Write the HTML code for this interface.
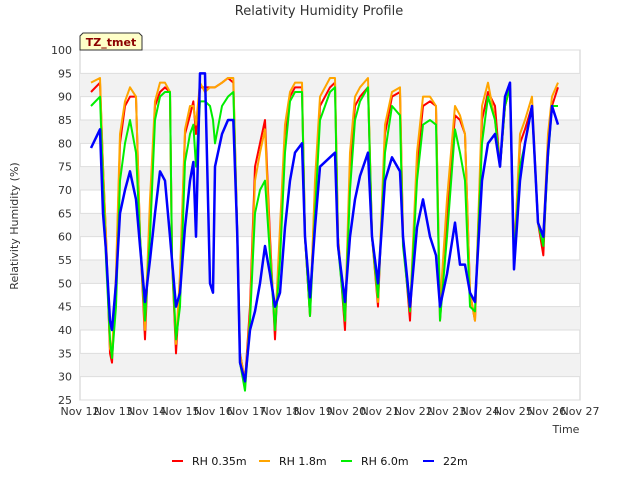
<!DOCTYPE html>
<html><head><meta charset="utf-8"><style>
body{margin:0;background:#fff;font-family:"DejaVu Sans","Liberation Sans",sans-serif}
svg text{font-family:"DejaVu Sans","Liberation Sans",sans-serif}
</style></head><body>
<svg id="c" width="640" height="480" xmlns="http://www.w3.org/2000/svg">
<text x="319" y="15" text-anchor="middle" font-size="13" fill="#333">Relativity Humidity Profile</text>
<text transform="translate(18,226) rotate(-90)" text-anchor="middle" font-size="11" fill="#333">Relativity Humidity (%)</text>
<text x="566" y="433" text-anchor="middle" font-size="11" fill="#333">Time</text>
<g id="grid"></g><g id="series"></g><g id="ticks"></g>
<g>
<path d="M80,50 L80,36 L83,33 L139,33 L142,36 L142,50 Z" fill="#ffffc8" stroke="#333" stroke-width="1"/>
<text x="111" y="46" text-anchor="middle" font-size="11" font-weight="bold" fill="#8b0000">TZ_tmet</text>
</g>
<g id="legend"></g>
</svg>
<script>
const times=[0.33,0.6,0.69,0.78,0.9,0.96,1.08,1.2,1.35,1.5,1.68,1.8,1.95,2.1,2.25,2.4,2.55,2.7,2.76,2.88,3.0,3.15,3.3,3.4,3.48,3.6,3.75,3.9,3.99,4.05,4.26,4.44,4.6,4.72,4.8,4.95,5.1,5.25,5.4,5.55,5.7,5.85,6.0,6.15,6.3,6.45,6.66,6.75,6.9,7.05,7.2,7.5,7.65,7.74,7.95,8.1,8.25,8.4,8.64,8.76,8.94,9.15,9.36,9.6,9.69,9.9,10.11,10.29,10.5,10.68,10.8,11.01,11.25,11.4,11.55,11.7,11.85,12.06,12.24,12.45,12.6,12.75,12.9,13.02,13.2,13.35,13.56,13.74,13.9,14.04,14.16,14.34];
const rh035=[91,93,75,60,35,33,50,80,88,90,90,60,38,65,88,91,92,91,55,35,50,82,86,89,82,92,92,92,92,92,93,94,93,60,35,29,45,75,80,85,60,38,60,82,90,92,92,60,43,70,88,92,93,60,40,75,88,90,92,60,45,82,90,91,60,42,75,88,89,88,42,65,86,85,82,48,42,85,91,88,75,88,92,55,80,83,88,63,56,80,88,92];
const rh18=[93,94,75,60,36,35,52,82,89,92,90,60,40,68,89,93,93,91,55,37,52,83,88,88,84,93,91,92,92,92,93,94,94,60,35,29,43,72,78,83,58,40,62,84,91,93,93,60,43,72,90,94,94,60,42,78,90,92,94,60,46,84,91,92,60,44,78,90,90,88,45,68,88,86,82,48,42,88,93,85,75,88,92,55,82,85,90,63,60,82,90,93];
const rh60=[88,90,72,55,38,34,45,72,80,85,78,60,42,60,85,90,91,91,55,38,45,76,82,84,75,89,89,88,85,80,88,90,91,60,33,27,42,65,70,72,56,40,55,78,89,91,91,60,43,65,85,91,92,58,42,70,85,89,92,60,47,78,88,86,58,44,72,84,85,84,42,60,83,78,72,45,44,80,90,85,75,88,92,55,75,80,88,63,58,77,88,88];
const rh22=[79,83,65,57,42,40,50,65,70,74,68,58,46,55,65,74,72,60,55,45,48,62,72,76,60,95,95,50,48,75,82,85,85,60,33,29,40,44,50,58,52,45,48,62,72,78,80,60,47,62,75,77,78,58,46,60,68,73,78,60,50,72,77,74,60,45,62,68,60,56,45,52,63,54,54,48,46,72,80,82,75,90,93,53,72,80,88,63,60,78,88,84];
const series=[["rh-0.35m",rh035,"#ff0000","RH 0.35m"],["rh-1.8m",rh18,"#ffa500","RH 1.8m"],["rh-6.0m",rh60,"#00ee00","RH 6.0m"],["rh-22m",rh22,"#0000ff","22m"]];
const yTicks=[25,30,35,40,45,50,55,60,65,70,75,80,85,90,95,100];
const xTicks=["Nov 12","Nov 13","Nov 14","Nov 15","Nov 16","Nov 17","Nov 18","Nov 19","Nov 20","Nov 21","Nov 22","Nov 23","Nov 24","Nov 25","Nov 26","Nov 27"];
const X0=80,X1=580,Y0=50,Y1=400;
const xs=d=>X0+d*(X1-X0)/15, ys=v=>Y1-(v-25)*(Y1-Y0)/75;
const NS="http://www.w3.org/2000/svg";
function mk(tag,attrs,parent){const e=document.createElementNS(NS,tag);for(const k in attrs)e.setAttribute(k,attrs[k]);parent.appendChild(e);return e;}
const grid=document.getElementById('grid'),tk=document.getElementById('ticks');
mk('rect',{x:X0,y:Y0,width:X1-X0,height:Y1-Y0,fill:'#fff',stroke:'#ccc'},grid);
for(let v=30;v<100;v+=10){const r=mk('rect',{x:X0,y:ys(v+5),width:X1-X0,height:ys(v)-ys(v+5),fill:'#f2f2f2'},grid);

}
yTicks.forEach(v=>{const l=mk('line',{x1:X0,x2:X1,y1:ys(v),y2:ys(v),stroke:'#ddd'},grid);


const t=mk('text',{x:X0-8,y:ys(v)+4,'text-anchor':'end','font-size':11,fill:'#333'},tk);t.textContent=v;

});
xTicks.forEach((s,i)=>{const t=mk('text',{x:xs(i),y:415,'text-anchor':'middle','font-size':11,fill:'#333'},tk);t.textContent=s;

});
const sg=document.getElementById('series'),lg=document.getElementById('legend');
const lx=[172,259,341,423];
series.forEach((s,i)=>{const p=mk('polyline',{points:times.map((t,j)=>xs(t)+','+ys(s[1][j])).join(' '),fill:'none',stroke:s[2],'stroke-width':i==3?2.5:2,'stroke-linejoin':'round'},sg);


const g=mk('g',{},lg);


mk('line',{x1:lx[i],x2:lx[i]+11,y1:461,y2:461,stroke:s[2],'stroke-width':2},g);
const t=mk('text',{x:lx[i]+20,y:465,'font-size':11,fill:'#111'},g);t.textContent=s[3];});
</script>
</body></html>
